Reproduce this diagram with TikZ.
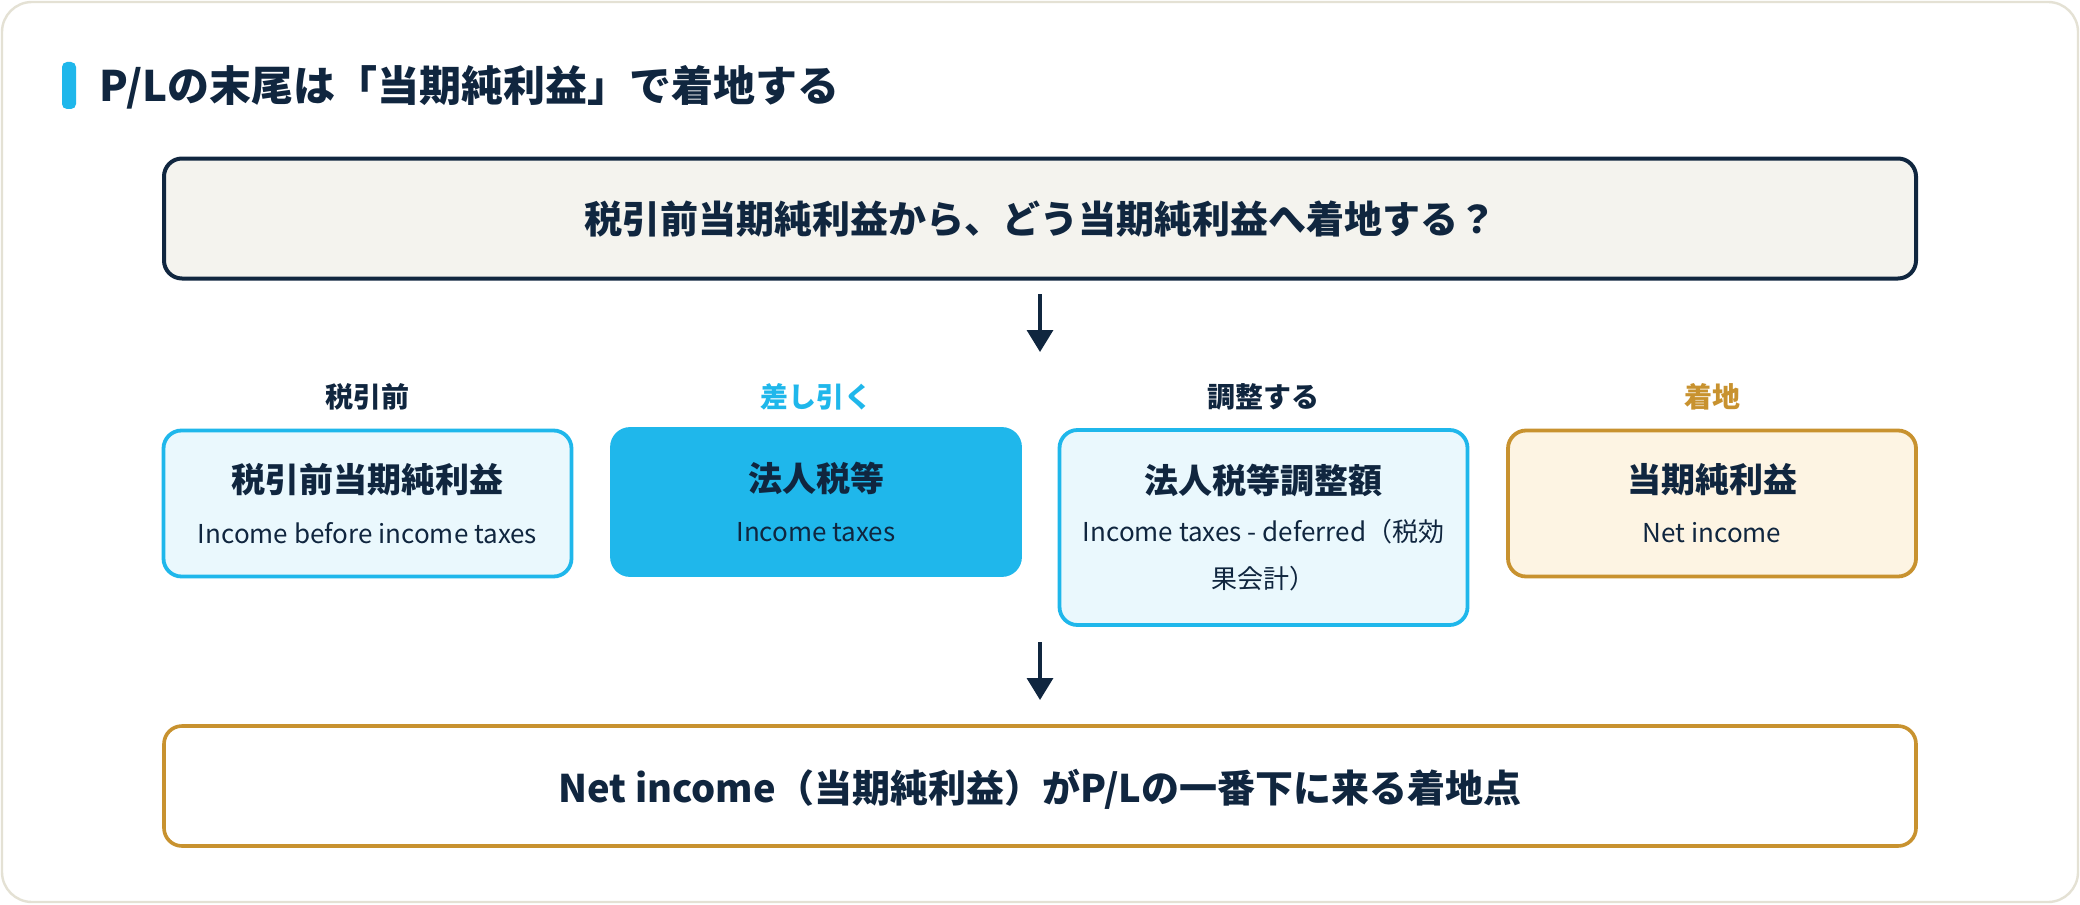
\documentclass[tikz,border=0pt]{standalone}
\usepackage{fontspec}
\setmainfont{Noto Sans CJK JP}
\usetikzlibrary{arrows.meta}
\definecolor{navy}{HTML}{10263F}
\definecolor{skyb}{HTML}{1FB7EB}
\definecolor{skyfill}{HTML}{EAF8FD}
\definecolor{gold}{HTML}{C8922F}
\definecolor{creamfill}{HTML}{FDF4E3}
\definecolor{topfill}{HTML}{F4F3EE}
\definecolor{cardline}{HTML}{E4E1D4}
\tikzset{
  card/.style={draw=cardline, line width=1.2pt, fill=white, rounded corners=15pt},
  bigbox/.style={draw, rounded corners=9pt, line width=2pt, minimum width=876pt, minimum height=60pt, inner sep=0pt},
  stepbox/.style={draw, rounded corners=9pt, line width=1.9pt, minimum width=204pt, minimum height=73pt, inner sep=0pt},
  ttl/.style={font=\fontsize{21}{25}\selectfont\bfseries, text=navy, inner sep=0pt},
  qtext/.style={font=\fontsize{19}{23}\selectfont\bfseries, text=navy, inner sep=0pt},
  lbl/.style={font=\fontsize{14}{17}\selectfont\bfseries, inner sep=0pt},
  btitle/.style={font=\fontsize{17}{20}\selectfont\bfseries, text=navy, inner sep=0pt},
  bsub/.style={font=\fontsize{13}{23.5}\selectfont, text=navy, inner sep=0pt, align=center},
  arr/.style={draw=navy, line width=1.7pt, -{Triangle[length=11pt,width=13pt]}},
}
\begin{document}
\begin{tikzpicture}[x=0.5pt,y=-0.5pt]
\useasboundingbox (0,0) rectangle (2080,904);
\fill[white] (0,0) rectangle (2080,904);
\draw[card] (2,2) rectangle (2078,902);
% title
\fill[skyb, rounded corners=2.5pt] (62,62) rectangle (76,109);
\node[ttl, anchor=west] (title) at (99,87) {P/Lの末尾は「当期純利益」で着地する};
% top question box
\node[bigbox, draw=navy, fill=topfill, minimum height=60pt] (top) at (1040,218.5) {};
\node[qtext] (toptext) at (1040,219) {税引前当期純利益から、どう当期純利益へ着地する？};
% arrow 1
\coordinate (a1s) at (1040,294);
\coordinate (a1e) at (1040,352);
\draw[arr] (a1s) -- (a1e);
% labels
\node[lbl, text=navy] (l1) at (367.5,397) {税引前};
\node[lbl, text=skyb] (l2) at (816,397) {差し引く};
\node[lbl, text=navy] (l3) at (1263.5,397) {調整する};
\node[lbl, text=gold] (l4) at (1712,397) {着地};
% step boxes
\node[stepbox, draw=skyb, fill=skyfill] (b1) at (367.5,503.5) {};
\node[stepbox, draw=skyb, fill=skyb] (b2) at (816,502) {};
\node[stepbox, draw=skyb, fill=skyfill, minimum height=97.5pt] (b3) at (1263.5,527.5) {};
\node[stepbox, draw=gold, fill=creamfill] (b4) at (1712,503.5) {};
\node[btitle] (b1t) at (367.5,480) {税引前当期純利益};
\node[bsub] (b1s) at (367.5,533) {Income before income taxes};
\node[btitle] (b2t) at (816,478) {法人税等};
\node[bsub] (b2s) at (816,532) {Income taxes};
\node[btitle] (b3t) at (1263.5,480) {法人税等調整額};
\node[bsub, anchor=north] (b3s) at (1263.5,519) {Income taxes - deferred（税効\\果会計）};
\node[btitle] (b4t) at (1712,480) {当期純利益};
\node[bsub] (b4s) at (1712,533) {Net income};
% arrow 2
\coordinate (a2s) at (1040,642);
\coordinate (a2e) at (1040,700);
\draw[arr] (a2s) -- (a2e);
% bottom box
\node[bigbox, draw=gold, fill=white, line width=1.8pt] (bot) at (1040,786) {};
\node[qtext] (bottext) at (1040,789) {Net income（当期純利益）がP/Lの一番下に来る着地点};
\end{tikzpicture}
\end{document}
